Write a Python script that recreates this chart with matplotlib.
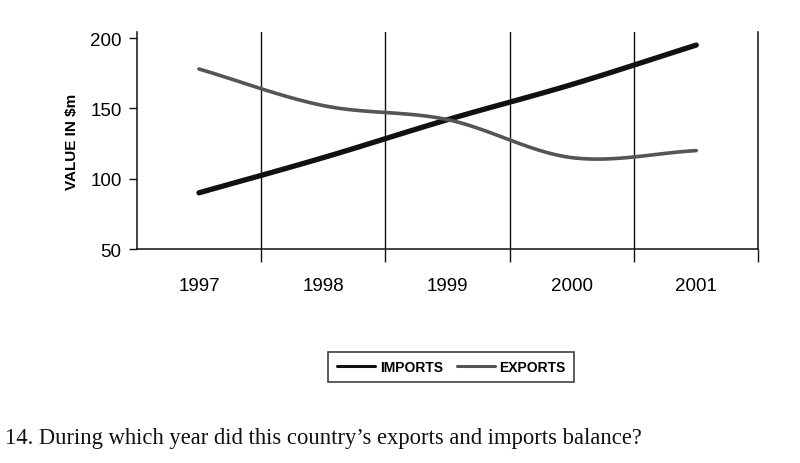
import numpy as np
import matplotlib
matplotlib.use("Agg")
import matplotlib.pyplot as plt

years = [1997, 1998, 1999, 2000, 2001]
imports = [90, 115, 142, 167, 195]
exports = [178, 152, 142, 115, 120]
yticks = [50, 100, 150, 200]

plt.rcParams['font.family'] = ['Liberation Sans', 'DejaVu Sans']

def smooth(xs, ys, n=30):
    # Catmull-Rom curve through the data points (Excel-style smoothed line)
    xs = np.asarray(xs, float); ys = np.asarray(ys, float)
    px = np.concatenate([[2*xs[0]-xs[1]], xs, [2*xs[-1]-xs[-2]]])
    py = np.concatenate([[2*ys[0]-ys[1]], ys, [2*ys[-1]-ys[-2]]])
    ox, oy = [], []
    for i in range(1, len(px)-2):
        t = np.linspace(0, 1, n, endpoint=(i == len(px)-3))
        for p, o in ((px, ox), (py, oy)):
            p0, p1, p2, p3 = p[i-1], p[i], p[i+1], p[i+2]
            o.extend(0.5*((2*p1) + (-p0+p2)*t + (2*p0-5*p1+4*p2-p3)*t**2 + (-p0+3*p1-3*p2+p3)*t**3))
    return np.array(ox), np.array(oy)

fig = plt.figure(figsize=(8, 4.64), dpi=100)
ax = fig.add_axes([0.171, 0.461, 0.777, 0.467])

ix, iy = smooth(years, imports)
ex, ey = smooth(years, exports)
ax.plot(ix, iy, color='#111111', lw=3.8, solid_capstyle='round', label='IMPORTS', zorder=3)
ax.plot(ex, ey, color='#555555', lw=2.6, solid_capstyle='round', label='EXPORTS', zorder=3)

ax.set_xlim(years[0]-0.5, years[-1]+0.5)
ax.set_ylim(50, 204)
ax.set_yticks(yticks)
ax.set_xticks(years)
ax.set_xticks([y + 0.5 for y in years], minor=True)
ax.tick_params(axis='x', which='major', length=0, pad=20, labelsize=13.5)
ax.tick_params(axis='x', which='minor', length=9, width=1, color='#111111')
ax.tick_params(axis='y', length=6, width=1, labelsize=13.5, color='#111111', pad=5)
for y in years[:-1]:
    ax.axvline(y + 0.5, color='#111111', lw=1.0, ymax=1.0, zorder=1)
ax.spines['top'].set_visible(False)
for s in ('left', 'bottom', 'right'):
    ax.spines[s].set_color('#111111')
    ax.spines[s].set_linewidth(1.1)
ax.set_ylabel('VALUE IN $m', fontsize=11, fontweight='bold', labelpad=8)

leg = fig.legend(loc='center', bbox_to_anchor=(0.564, 0.207), ncol=2, frameon=True,
                 fancybox=False, edgecolor='#111111', handlelength=2.8, handletextpad=0.3,
                 columnspacing=1.0, borderpad=0.6, prop={'size': 10, 'weight': 'bold'})
leg.get_frame().set_linewidth(1.2)
for ln in leg.get_lines():
    ln.set_linewidth(2.2)

fig.text(0.006, 0.043, "14. During which year did this country\u2019s exports and imports balance?",
         family=['Liberation Serif', 'DejaVu Serif'], fontsize=16.3, color='#111111')

fig.savefig('out.png', dpi=100, facecolor='white')
